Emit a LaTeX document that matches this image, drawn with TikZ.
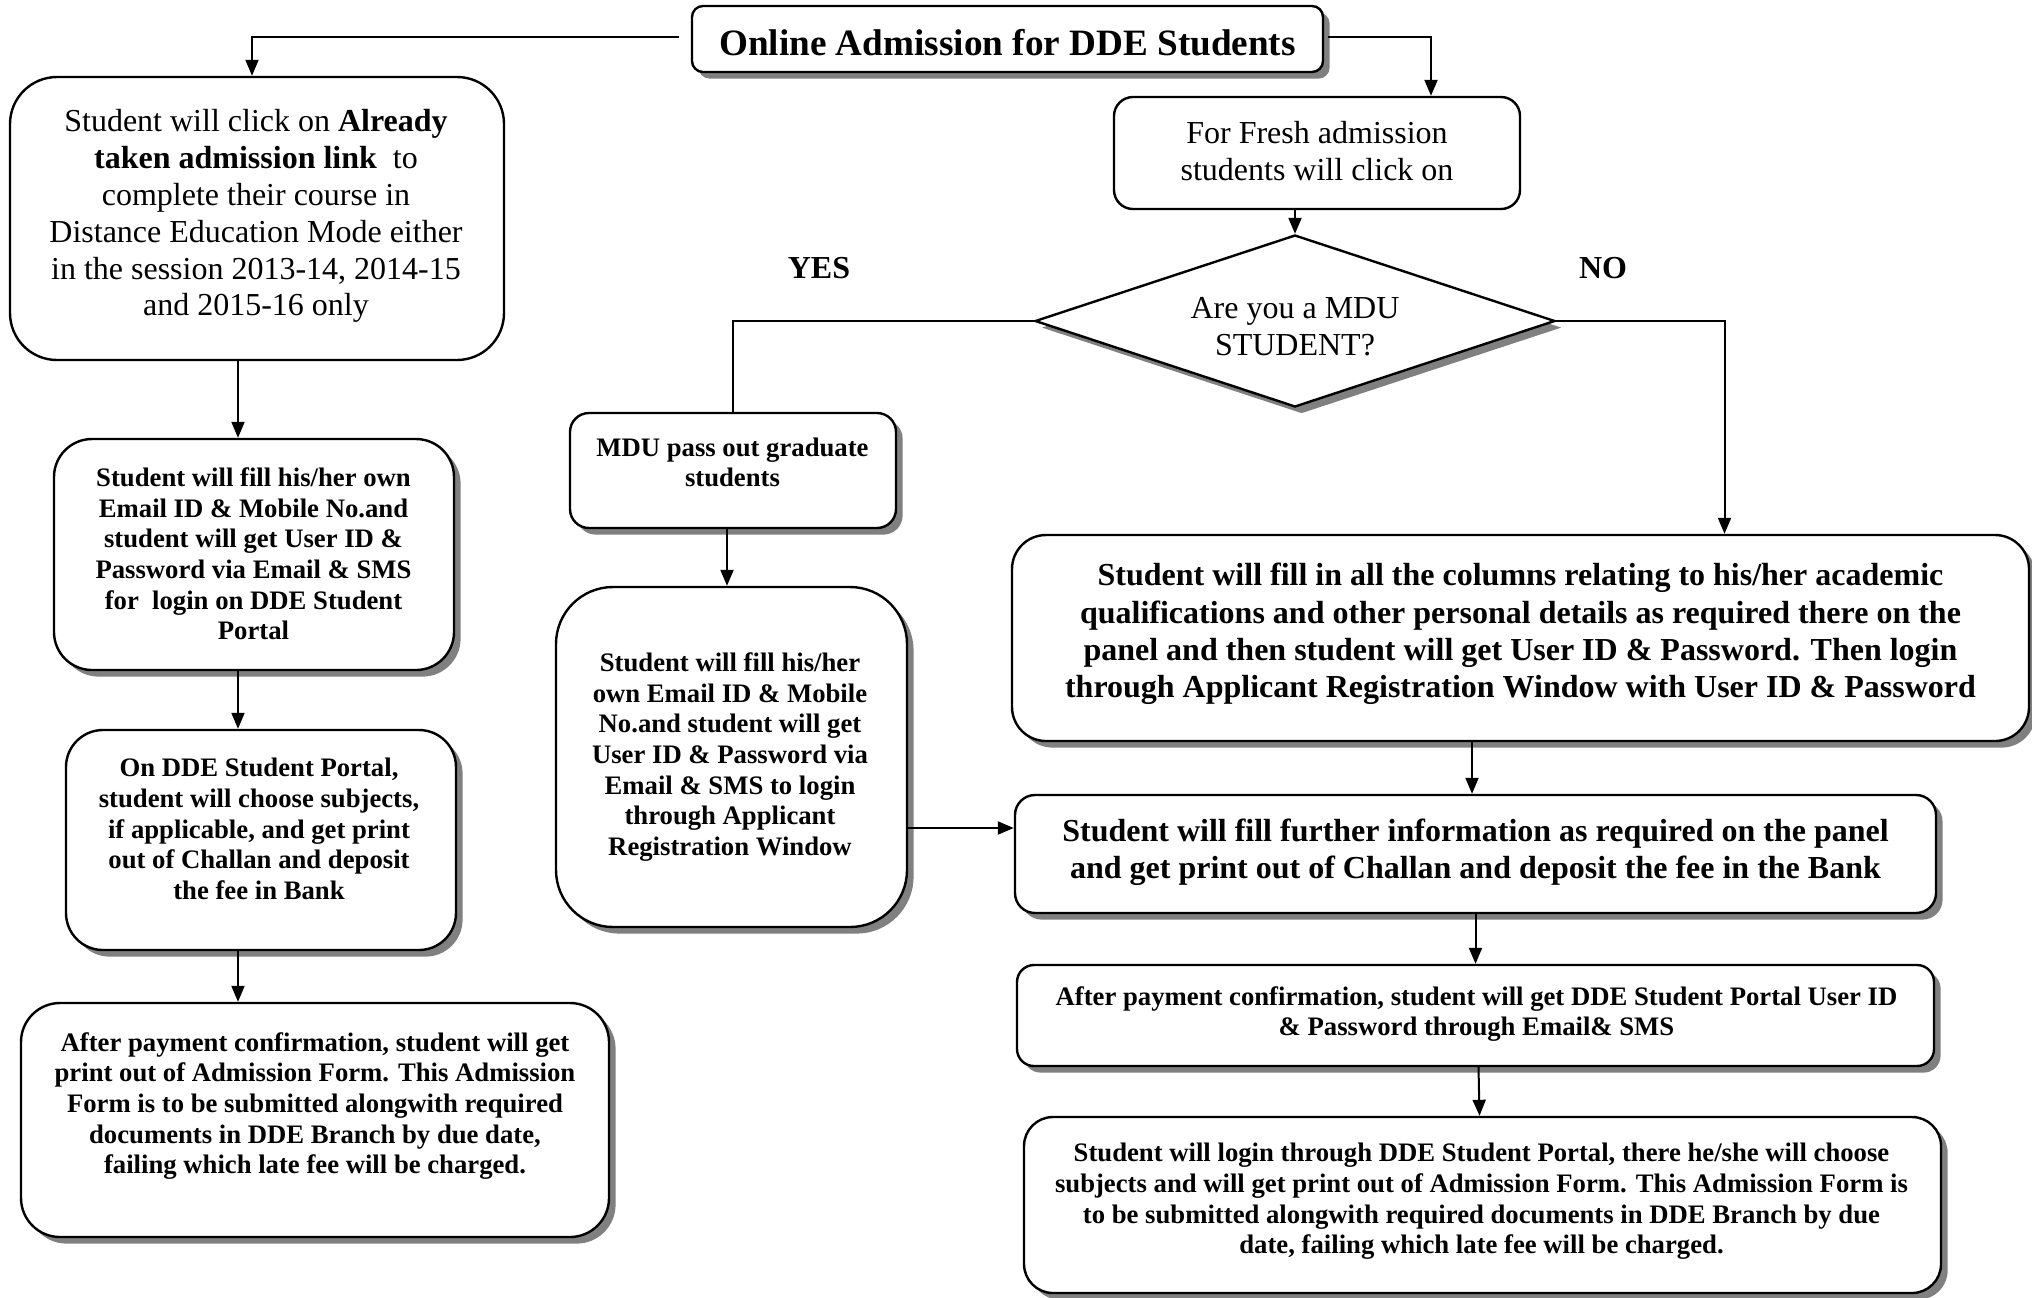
\documentclass[tikz,border=0pt]{standalone}
\usepackage{fontspec}
\setmainfont{Liberation Serif}
\usetikzlibrary{arrows.meta,shapes.geometric,shadows,fit}
\begin{document}
\begin{tikzpicture}[x=0.5pt,y=-0.5pt,
  box/.style={draw=black, line width=1.2pt, fill=white, inner sep=0pt},
  shad/.style={drop shadow={shadow xshift=3.3pt, shadow yshift=-3.3pt, fill=black!50, opacity=1}},
  arr/.style={line width=1pt, -{Triangle[length=8pt,width=6.5pt]}},
  conn/.style={line width=1pt},
  reg/.style={align=center, font=\fontsize{16}{18.45}\selectfont, inner sep=0pt},
  sb/.style={align=center, font=\fontsize{13.35}{15.3}\selectfont\bfseries, inner sep=0pt},
  bb/.style={align=center, font=\fontsize{16}{18.6}\selectfont\bfseries, inner sep=0pt},
]
\useasboundingbox (0,0) rectangle (2032,1297);

% boxes
\node[box, shad, rounded corners=5.5pt, fit={(692,6) (1323,72)}] (title) {};
\node[box, rounded corners=23.5pt, fit={(10,77) (504,360)}] (b1) {};
\node[box, shad, rounded corners=19pt, fit={(54,439) (454,670)}] (b2) {};
\node[box, shad, rounded corners=18.5pt, fit={(66,730) (456,950)}] (b3) {};
\node[box, shad, rounded corners=19.5pt, fit={(21,1003) (609,1237)}] (b4) {};
\node[box, rounded corners=9.5pt, fit={(1114,97) (1520,209)}] (fresh) {};
\node[box, shad, diamond, minimum width=260pt, minimum height=86pt] (dia) at (1295,321) {};
\node[box, shad, rounded corners=9.5pt, fit={(570,413) (896,528)}] (mdu) {};
\node[box, shad, rounded corners=28.5pt, fit={(556,587) (907,927)}] (mid) {};
\node[box, shad, rounded corners=17pt, fit={(1012,535) (2029,741)}] (big) {};
\node[box, shad, rounded corners=10pt, fit={(1015,795) (1936,913)}] (further) {};
\node[box, shad, rounded corners=8.5pt, fit={(1017,965) (1934,1066)}] (apr) {};
\node[box, shad, rounded corners=14.5pt, fit={(1024,1117) (1941,1293)}] (login) {};

% texts
\node[font=\fontsize{18.6}{22}\selectfont\bfseries, inner sep=0pt] (ttitle) at (1007.5,43) {Online Admission for DDE Students};
\node[reg] (t1) at (256,216) {Student will click on \textbf{Already}\\
\textbf{taken admission link}\ \ to\\
complete their course in\\
Distance Education Mode either\\
in the session 2013-14, 2014-15\\
and 2015-16 only};
\node[sb] (t2) at (253.5,554) {Student will fill his/her own\\
Email ID \& Mobile No.and\\
student will get User ID \&\\
Password via Email \& SMS\\
for\ \ login on DDE Student\\
Portal};
\node[sb] (t3) at (259,829) {On DDE Student Portal,\\
student will choose subjects,\\
if applicable, and get print\\
out of Challan and deposit\\
the fee in Bank};
\node[sb] (t4) at (315,1106) {After payment confirmation, student will get\\
print out of Admission Form. This Admission\\
Form is to be submitted alongwith required\\
documents in DDE Branch by due date,\\
failing which late fee will be charged.};
\node[reg] (tfresh) at (1317,151) {For Fresh admission\\students will click on};
\node[reg] (tdia) at (1295,327) {Are you a MDU\\STUDENT?};
\node[font=\fontsize{16}{18}\selectfont\bfseries, inner sep=0pt] (tyes) at (819,268) {YES};
\node[font=\fontsize{16}{18}\selectfont\bfseries, inner sep=0pt] (tno) at (1603,268) {NO};
\node[sb] (tmdu) at (732.5,462.5) {MDU pass out graduate\\students};
\node[sb] (tmid) at (730,757) {Student will fill his/her\\
own Email ID \& Mobile\\
No.and student will get\\
User ID \& Password via\\
Email \& SMS to login\\
through Applicant\\
Registration Window};
\node[bb] (tbig) at (1520.5,634) {Student will fill in all the columns relating to his/her academic\\
qualifications and other personal details as required there on the\\
panel and then student will get User ID \& Password. Then login\\
through Applicant Registration Window with User ID \& Password};
\node[bb] (tfur) at (1475.5,852.5) {Student will fill further information as required on the panel\\
and get print out of Challan and deposit the fee in the Bank};
\node[sb] (tapr) at (1476.5,1014) {After payment confirmation, student will get DDE Student Portal User ID\\
\& Password through Email\& SMS};
\node[sb] (tlogin) at (1481.5,1201.5) {Student will login through DDE Student Portal, there he/she will choose\\
subjects and will get print out of Admission Form. This Admission Form is\\
to be submitted alongwith required documents in DDE Branch by due\\
date, failing which late fee will be charged.};

% connectors
\draw[arr, shorten <=6pt] ([yshift=1pt]title.west) -| ([xshift=-2.5pt]b1.north);
\draw[arr, shorten <=2pt] ([yshift=1pt]title.east) -| ([xshift=57pt]fresh.north);
\draw[arr] (fresh.south -| dia.north) -- (dia.north);
\draw[conn] (dia.west) -| (mdu.north);
\draw[arr] (dia.east) -| ([xshift=102pt]big.north);
\draw[arr] ([xshift=-3pt]mdu.south) -- ([xshift=-3pt]mdu.south |- mid.north);
\draw[arr] ([yshift=-35.5pt]mid.east) -- ([yshift=-35.5pt]mid.east -| further.west);
\draw[arr] ([xshift=-24.25pt]big.south) -- ([xshift=-24.25pt]big.south |- further.north);
\draw[arr] (further.south) -- (apr.north);
\draw[arr] ([xshift=1.5pt]apr.south) -- ([xshift=-1.5pt]login.north);
\draw[arr] ([xshift=-9.5pt]b1.south) -- ([xshift=-9.5pt]b1.south |- b2.north);
\draw[arr] ([xshift=-8pt]b2.south) -- ([xshift=-8pt]b2.south |- b3.north);
\draw[arr] ([xshift=-11.5pt]b3.south) -- ([xshift=-11.5pt]b3.south |- b4.north);
\end{tikzpicture}
\end{document}
